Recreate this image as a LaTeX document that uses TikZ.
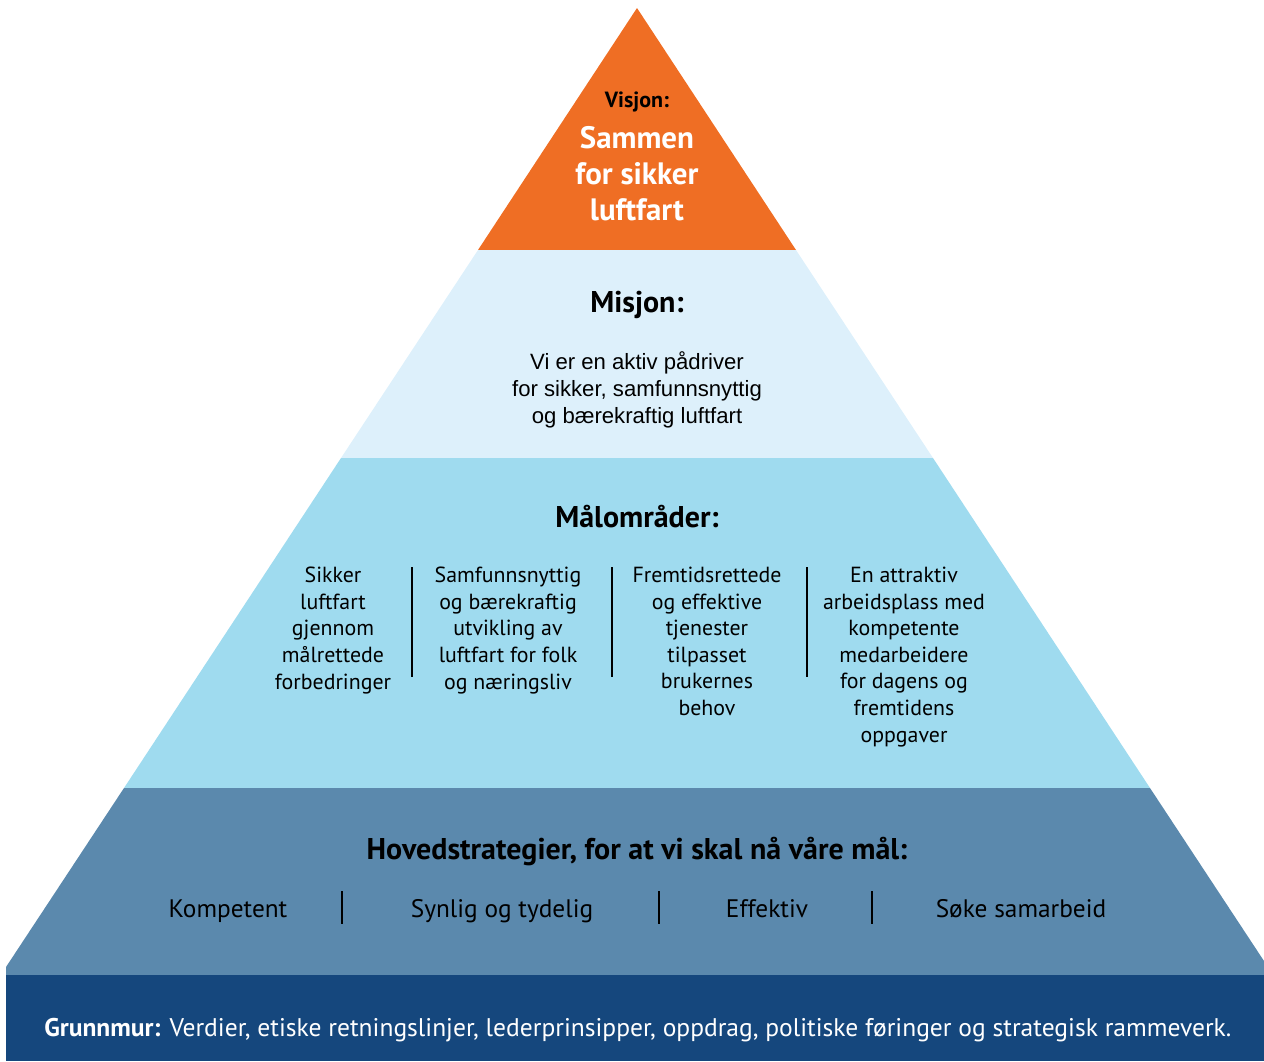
\documentclass[tikz,border=0pt]{standalone}
\usepackage{fontspec}
\setmainfont{PT Sans}
\newfontfamily\arialf{Liberation Sans}
\definecolor{cOrange}{HTML}{EF6E24}
\definecolor{cLight}{HTML}{DDF0FB}
\definecolor{cMid}{HTML}{9FDBEF}
\definecolor{cSteel}{HTML}{5B89AD}
\definecolor{cDark}{HTML}{15477D}
\tikzset{
  txt/.style={inner sep=0pt, outer sep=0pt, align=center, anchor=base, text=black},
  goal/.style={txt, font=\fontsize{16.4}{19.9}\selectfont},
  strat/.style={txt, font=\fontsize{19}{22}\selectfont},
  sep/.style={draw=black, line width=1.1pt},
}
\begin{document}
\begin{tikzpicture}[x=0.75pt, y=-0.75pt]
\useasboundingbox (0,0) rectangle (1264,1061);
% bands
\fill[cOrange] (637,8) -- (478,250) -- (796,250) -- cycle;
\fill[cLight] (478,250) -- (796,250) -- (933,458) -- (341,458) -- cycle;
\fill[cMid] (341,458) -- (933,458) -- (1150,788) -- (124,788) -- cycle;
\fill[cSteel] (124,788) -- (1150,788) -- (1264,961) -- (1264,975) -- (6,975) -- (6,967) -- cycle;
\fill[cDark] (6,975) rectangle (1264,1061);
% vision
\node[txt, font=\fontsize{16.5}{18}\selectfont\bfseries] (visjon) at (637,107) {Visjon:};
\node[txt, text=white, font=\fontsize{23.2}{27}\selectfont\bfseries] (visjontxt) at (637,220) {Sammen\\for sikker\\luftfart};
% mission
\node[txt, font=\fontsize{22.5}{26}\selectfont\bfseries] (misjon) at (637,312) {Misjon:};
\node[txt, font=\arialf\fontsize{16.6}{19.9}\selectfont] (misjontxt) at (637,423) {Vi er en aktiv pådriver\\for sikker, samfunnsnyttig\\og bærekraftig luftfart};
% goals
\node[txt, font=\fontsize{22.5}{26}\selectfont\bfseries] (mal) at (637,527) {Målområder:};
\node[goal] (g1) at (333,689) {Sikker\\luftfart\\gjennom\\målrettede\\forbedringer};
\node[goal] (g2) at (508,689) {Samfunnsnyttig\\og bærekraftig\\utvikling av\\luftfart for folk\\og næringsliv};
\node[goal] (g3) at (707,715.5) {Fremtidsrettede\\og effektive\\tjenester\\tilpasset\\brukernes\\behov};
\node[goal] (g4) at (904,742) {En attraktiv\\arbeidsplass med\\kompetente\\medarbeidere\\for dagens og\\fremtidens\\oppgaver};
\coordinate (s1t) at (412,567); \coordinate (s1b) at (412,677);
\coordinate (s2t) at (612,567); \coordinate (s2b) at (612,677);
\coordinate (s3t) at (807,567); \coordinate (s3b) at (807,677);
\draw[sep] (s1t) -- (s1b);
\draw[sep] (s2t) -- (s2b);
\draw[sep] (s3t) -- (s3b);
% strategies
\node[txt, font=\fontsize{22.5}{26}\selectfont\bfseries] (hoved) at (637,859) {Hovedstrategier, for at vi skal nå våre mål:};
\node[strat] (k1) at (228,917) {Kompetent};
\node[strat] (k2) at (502,917) {Synlig og tydelig};
\node[strat] (k3) at (767,917) {Effektiv};
\node[strat] (k4) at (1021,917) {Søke samarbeid};
\coordinate (t1t) at (342,891); \coordinate (t1b) at (342,924);
\coordinate (t2t) at (659,891); \coordinate (t2b) at (659,924);
\coordinate (t3t) at (872,891); \coordinate (t3b) at (872,924);
\draw[sep] (t1t) -- (t1b);
\draw[sep] (t2t) -- (t2b);
\draw[sep] (t3t) -- (t3b);
% foundation
\node[inner sep=0pt, anchor=base west, text=white, font=\fontsize{19.15}{22}\selectfont] (grunn) at (44,1036) {\textbf{Grunnmur:} Verdier, etiske retningslinjer, lederprinsipper, oppdrag, politiske føringer og strategisk rammeverk.};
\end{tikzpicture}
\end{document}
